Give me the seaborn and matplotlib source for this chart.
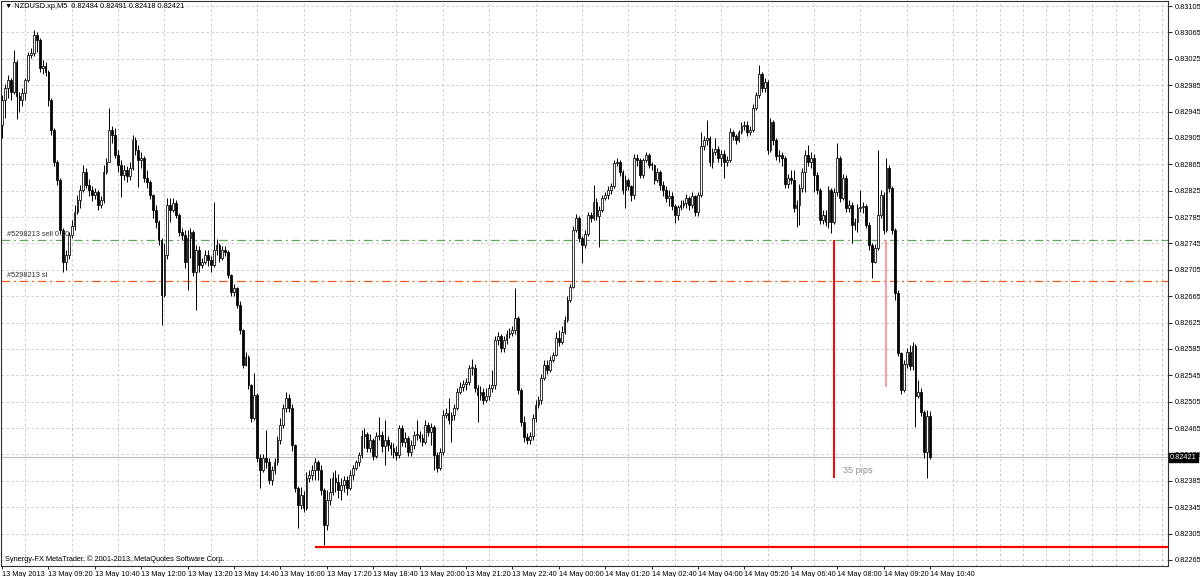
from matplotlib import pyplot as plt
from matplotlib import transforms
import numpy as np
import pandas as pd
import seaborn as sns

# Chart header / footer texts.
symbol = "NZDUSD.xp,M5"
footer = "Synergy-FX MetaTrader, \u00a9 2001-2013, MetaQuotes Software Corp."
start_time = "2013-05-13 08:00"

# M5 bars, prices in points (1e-5). Open of each bar is the previous close.
first_open = 82925
close_pts = [
    82962, 82981, 82993, 82975, 83020, 82969, 82962, 82973, 82993, 83031,
    83034, 83061, 83053, 83011, 83014, 83005, 82962, 82917, 82868, 82841,
    82765, 82717, 82727, 82758, 82771, 82793, 82811, 82826, 82853, 82834,
    82826, 82818, 82823, 82803, 82811, 82853, 82868, 82917, 82909, 82879,
    82864, 82849, 82856, 82847, 82859, 82902, 82887, 82872, 82875, 82844,
    82838, 82818, 82796, 82778, 82750, 82667, 82727, 82803, 82796, 82806,
    82788, 82762, 82758, 82717, 82753, 82762, 82702, 82735, 82712,
    82717, 82727, 82720, 82712, 82735, 82743, 82723, 82735, 82732, 82697,
    82671, 82677, 82652, 82614, 82561, 82573, 82530, 82480, 82515, 82420,
    82401, 82420, 82414, 82386, 82401, 82414, 82447, 82470, 82496, 82511,
    82496, 82439, 82374, 82348, 82364, 82344, 82389, 82394, 82401, 82414,
    82401, 82371, 82318, 82356, 82368, 82389, 82383, 82371, 82379, 82386,
    82374, 82394, 82404, 82414, 82424, 82453, 82456, 82435, 82447, 82423,
    82453, 82455, 82438, 82447, 82439, 82435, 82429, 82424, 82465,
    82444, 82450, 82429, 82439, 82455, 82455, 82450, 82444, 82470, 82459,
    82467, 82424, 82404, 82429, 82485, 82488, 82477, 82485, 82496, 82520,
    82527, 82532, 82535, 82556, 82556, 82526, 82515, 82520, 82508, 82514,
    82526, 82530, 82599, 82605, 82587, 82599, 82608, 82609, 82614, 82632,
    82523, 82474, 82452, 82447, 82453, 82480, 82500, 82508, 82541, 82561,
    82553, 82568, 82576, 82602, 82596, 82611, 82629, 82659, 82679,
    82765, 82784, 82753, 82743, 82759, 82788, 82784, 82808, 82787, 82796,
    82814, 82818, 82826, 82832, 82867, 82868, 82853, 82826, 82841, 82832,
    82818, 82875, 82872, 82849, 82872, 82879, 82864, 82864, 82841, 82853,
    82834, 82826, 82814, 82817, 82802, 82788, 82800, 82803, 82806, 82814,
    82803, 82817, 82793, 82818, 82893, 82902, 82905, 82868, 82884,
    82888, 82875, 82881, 82868, 82872, 82914, 82908, 82902, 82914, 82923,
    82925, 82914, 82917, 82950, 82970, 83002, 82981, 82990, 82887, 82929,
    82902, 82878, 82879, 82875, 82835, 82844, 82841, 82799, 82803, 82829,
    82853, 82879, 82868, 82875, 82849, 82826, 82781, 82788, 82778, 82826,
    82778, 82823, 82875, 82814, 82844, 82799, 82803, 82773, 82778, 82799,
    82800, 82802, 82773, 82743, 82717, 82738, 82788, 82818, 82765,
    82859, 82829, 82765, 82670, 82579, 82523, 82562, 82580, 82559, 82590,
    82514, 82520, 82489, 82429, 82484, 82421,
]
# Shadow lengths above / below the body, in points.
wick_up = [
    8, 6, 8, 3, 18, 3, 6, 8, 3, 5,
    8, 8, 5, 3, 9, 6, 3, 3, 3, 3,
    3, 3, 8, 5, 9, 11, 8, 8, 11, 6,
    8, 6, 6, 3, 6, 11, 6, 33, 6, 11,
    8, 8, 8, 6, 9, 8, 5, 8, 9, 3,
    12, 3, 2, 8, 3, 3, 18, 11, 11, 8,
    5, 3, 6, 8, 12, 6, 3, 8, 6,
    6, 8, 8, 6, 73, 8, 3, 6, 6, 3,
    2, 6, 2, 5, 2, 8, 3, 2, 33, 3,
    5, 5, 42, 6, 6, 6, 6, 11, 6, 8,
    5, 5, 2, 3, 11, 5, 9, 8, 8, 6,
    3, 8, 3, 15, 21, 9, 12, 12, 11, 6,
    6, 8, 5, 3, 5, 9, 9, 3, 9, 3,
    6, 27, 5, 30, 6, 5, 8, 9, 5,
    5, 9, 3, 8, 5, 23, 5, 6, 8, 5,
    5, 2, 5, 6, 8, 8, 23, 5, 6, 6,
    8, 6, 6, 5, 14, 6, 5, 9, 6, 12,
    6, 23, 6, 5, 3, 6, 6, 8, 6, 45,
    3, 3, 9, 5, 6, 6, 8, 6, 6, 8,
    8, 6, 5, 9, 12, 9, 6, 6, 5,
    6, 5, 3, 3, 6, 5, 5, 26, 6, 6,
    5, 5, 6, 5, 5, 6, 3, 3, 8, 3,
    2, 5, 5, 3, 3, 5, 3, 5, 2, 6,
    3, 5, 6, 9, 6, 3, 3, 8, 5, 6,
    3, 6, 2, 5, 21, 6, 27, 3, 6,
    17, 5, 6, 6, 6, 6, 3, 3, 3, 6,
    5, 5, 6, 6, 5, 14, 3, 6, 3, 6,
    3, 3, 8, 5, 3, 6, 12, 15, 8, 6,
    6, 8, 15, 9, 5, 5, 3, 8, 8, 6,
    3, 6, 23, 3, 6, 5, 8, 5, 6, 6,
    26, 6, 3, 5, 2, 6, 98, 8, 5,
    15, 5, 3, 3, 5, 2, 6, 6, 11, 6,
    2, 18, 6, 3, 9, 7,
]
wick_dn = [
    20, 27, 15, 12, 3, 36, 18, 8, 11, 3,
    5, 5, 18, 6, 9, 6, 8, 8, 6, 8,
    6, 15, 12, 5, 5, 6, 3, 12, 3, 5,
    9, 8, 5, 8, 5, 5, 3, 0, 11, 5,
    11, 33, 8, 9, 6, 3, 8, 42, 12, 6,
    9, 5, 12, 9, 8, 45, 3, 5, 18, 3,
    5, 6, 8, 9, 42, 30, 6, 58, 11,
    5, 3, 9, 11, 2, 8, 6, 3, 6, 5,
    6, 6, 5, 6, 5, 2, 5, 5, 3, 6,
    27, 2, 9, 6, 8, 6, 5, 6, 5, 6,
    6, 8, 6, 35, 5, 6, 3, 6, 8, 15,
    15, 8, 30, 8, 8, 5, 15, 12, 15, 11,
    11, 3, 8, 3, 6, 5, 18, 6, 6, 6,
    3, 6, 9, 29, 8, 11, 9, 8, 5,
    6, 8, 6, 6, 5, 8, 6, 6, 3, 6,
    20, 23, 6, 3, 5, 5, 6, 33, 8, 3,
    3, 5, 9, 5, 11, 6, 41, 8, 6, 3,
    6, 6, 5, 8, 6, 6, 6, 6, 5, 6,
    6, 6, 8, 6, 6, 6, 6, 5, 6, 3,
    6, 3, 3, 2, 6, 3, 3, 3, 3,
    2, 3, 6, 27, 5, 3, 6, 3, 6, 47,
    3, 3, 5, 6, 3, 5, 6, 6, 27, 6,
    8, 5, 9, 5, 5, 3, 5, 8, 6, 3,
    8, 9, 6, 12, 6, 12, 8, 5, 5, 8,
    8, 5, 6, 6, 2, 6, 8, 6, 9,
    5, 6, 12, 24, 5, 3, 6, 6, 3, 3,
    6, 6, 5, 3, 3, 5, 6, 6, 6, 3,
    8, 6, 9, 12, 6, 6, 6, 6, 29, 30,
    6, 30, 6, 9, 26, 6, 6, 6, 6, 9,
    17, 3, 6, 6, 3, 6, 6, 27, 8, 15,
    6, 9, 5, 8, 24, 2, 3, 5, 6,
    3, 6, 6, 11, 5, 6, 3, 6, 6, 6,
    48, 3, 6, 9, 39, 3,
]

# Price scale labels on the right.
price_labels = ["0.82265", "0.82305", "0.82345", "0.82385", "0.82425", "0.82465",
                "0.82505", "0.82545", "0.82585", "0.82625", "0.82665", "0.82705",
                "0.82745", "0.82785", "0.82825", "0.82865", "0.82905", "0.82945",
                "0.82985", "0.83025", "0.83065", "0.83105"]

# Order / drawing objects.
order_sell_text = "#5298213 sell 0.10"
order_sl_text = "#5298213 sl"
sell_price = 0.82750
stop_price = 0.82688
support_price = 0.82285
support_from_bar = 108
pips_bar = 287
pips_low = 0.82390
pips_text = "35 pips"
second_bar = 305
second_low = 0.82527

# Build the bar table.
close = np.array(close_pts) / 1e5
open_ = np.r_[first_open, close_pts[:-1]] / 1e5
bars = pd.DataFrame({
    "time": pd.date_range(start_time, periods=len(close_pts), freq="5min"),
    "open": open_,
    "close": close,
})
bars["high"] = bars[["open", "close"]].max(axis=1) + np.array(wick_up) / 1e5
bars["low"] = bars[["open", "close"]].min(axis=1) - np.array(wick_dn) / 1e5
bars["bull"] = bars["close"] >= bars["open"]
last = bars.iloc[-1]

sns.set_theme(style="white")
plt.rcParams["font.family"] = ["Liberation Sans", "DejaVu Sans"]

fig = plt.figure(figsize=(12, 5.77), dpi=100)
ax = fig.add_axes([1 / 1200, 11 / 577, 1167 / 1200, 565 / 577])
ax.set_xlim(-0.35, 402.1)
ax.set_ylim(0.822559, 0.831126)

grid_color = "#c4c4c4"
grid_style = (0, (3, 3))

# Vertical grid every 8 bars, horizontal grid on each price label.
ax.set_xticks(np.arange(0, 408, 8), minor=True)
ax.grid(which="minor", axis="x", color=grid_color, linestyle=grid_style, linewidth=0.6)
price_vals = [float(p) for p in price_labels]
ax.set_yticks(price_vals)
ax.set_yticklabels(price_labels)
ax.grid(which="major", axis="y", color=grid_color, linestyle=grid_style, linewidth=0.6)
ax.set_axisbelow(True)

# Time labels every 16 bars.
lbl_idx = bars.index[::16]
lbls = [bars["time"][i].strftime("%d %b %H:%M") for i in lbl_idx]
lbls[0] = bars["time"][0].strftime("%d %b %Y")
ax.set_xticks(lbl_idx)
ax.set_xticklabels(lbls)
for t in ax.get_xticklabels():
    t.set_ha("left")

ax.yaxis.tick_right()
ax.tick_params(axis="y", which="major", right=True, length=3, width=0.6, pad=2,
               labelsize=5.3, colors="black")
ax.tick_params(axis="x", which="major", bottom=True, length=2, width=0.6, pad=1.5,
               labelsize=5.3, colors="black")
ax.tick_params(axis="x", which="minor", length=0)
for s in ax.spines.values():
    s.set_color("#303030")
    s.set_linewidth(0.8)

# Level lines.
ax.axhline(last["close"], color="#bdbdbd", linewidth=0.8, zorder=1)
ax.axhline(sell_price, color="#5daa5d", linewidth=0.9, linestyle=(0, (7, 3, 1.5, 3)), zorder=1)
ax.axhline(stop_price, color="#f45a1e", linewidth=0.9, linestyle=(0, (7, 3, 1.5, 3)), zorder=1)
ax.hlines(support_price, support_from_bar, 402.1, color="#ff0000", linewidth=1.6, zorder=4)
ax.vlines(pips_bar, pips_low, sell_price, color="#ff0000", linewidth=1.4, zorder=4)
ax.vlines(second_bar, second_low, sell_price, color="#ff7f7f", linewidth=1.1, zorder=4)
ax.text(pips_bar + 3, pips_low + 0.00011, pips_text, fontsize=6.6, color="#8f8f8f",
        ha="left", va="center")

# Candles.
ax.vlines(bars.index, bars["low"], bars["high"], color="black", linewidth=0.7, zorder=2)
body_lo = bars[["open", "close"]].min(axis=1)
body_h = (bars["close"] - bars["open"]).abs().clip(lower=0.000012)
up = bars["bull"]
ax.bar(bars.index[up], body_h[up], bottom=body_lo[up], width=0.62, color="white",
       edgecolor="black", linewidth=0.55, zorder=3)
ax.bar(bars.index[~up], body_h[~up], bottom=body_lo[~up], width=0.62, color="black",
       edgecolor="black", linewidth=0.55, zorder=3)

# Order labels on the left.
tr = transforms.blended_transform_factory(ax.transAxes, ax.transData)
ax.text(6 / 1167, sell_price + 0.00003, order_sell_text, transform=tr, fontsize=5.3,
        color="#303030", ha="left", va="bottom")
ax.text(6 / 1167, stop_price + 0.00003, order_sl_text, transform=tr, fontsize=5.3,
        color="#303030", ha="left", va="bottom")

# Current bid box on the price scale, drawn over the 0.82425 label as in MT4.
ax.text(1.0015, last["close"], f"{last['close']:.5f}", transform=tr, fontsize=5.3,
        color="white", ha="left", va="center", clip_on=False, zorder=10,
        bbox=dict(boxstyle="square,pad=0.15", facecolor="black", edgecolor="black"))

# Header and footer.
header = (f"\u25bc {symbol}  {last['open']:.5f} {last['high']:.5f} "
          f"{last['low']:.5f} {last['close']:.5f}")
fig.text(5 / 1200, 1 - 7 / 577, header, fontsize=5.3, color="black", ha="left", va="center")
fig.text(5 / 1200, 1 - 559 / 577, footer, fontsize=5.3, color="black", ha="left", va="center")

fig.savefig("out.png", dpi=100, facecolor="white")
